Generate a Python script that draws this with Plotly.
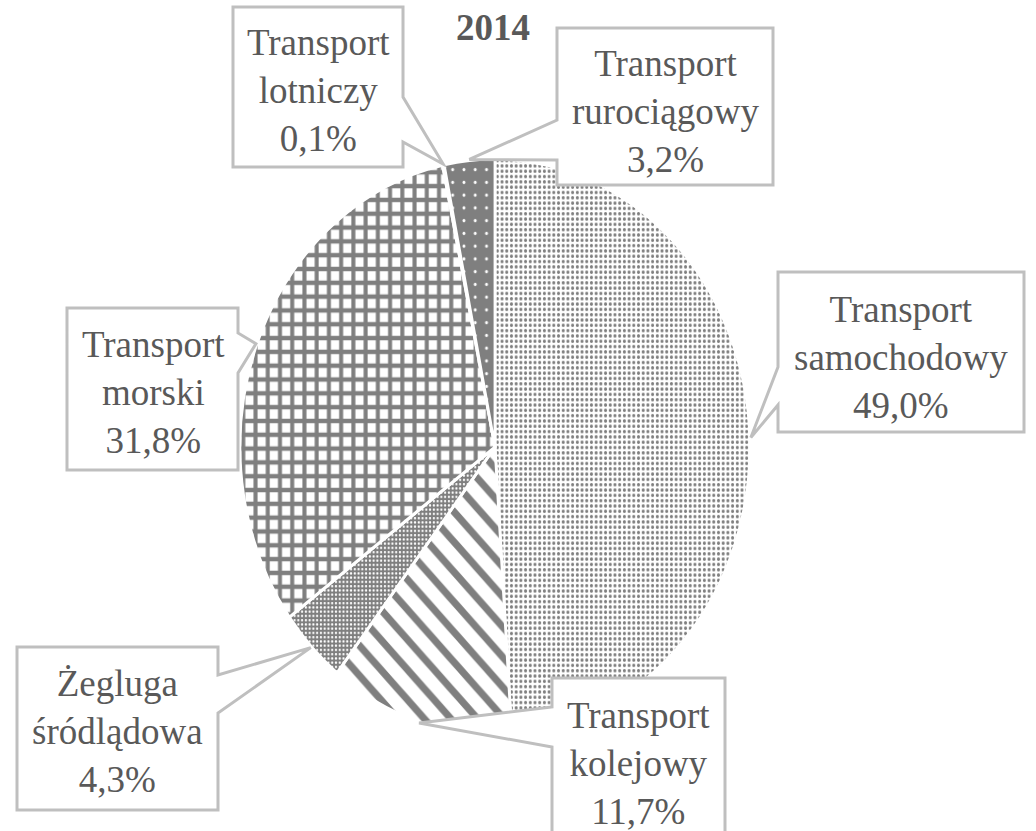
import math
import plotly.graph_objects as go

# ---------------- data ----------------
categories = ["Transport samochodowy", "Transport kolejowy", "Żegluga śródlądowa",
              "Transport morski", "Transport lotniczy", "Transport rurociągowy"]
label_lines = [["Transport", "samochodowy"], ["Transport", "kolejowy"], ["Żegluga", "śródlądowa"],
               ["Transport", "morski"], ["Transport", "lotniczy"], ["Transport", "rurociągowy"]]
values = [49.0, 11.7, 4.3, 31.8, 0.1, 3.2]
chart_title = "2014"

# ---------------- layout / style ----------------
W, H = 1036, 831
CX, CY = 495, 447          # pie centre (px)
RX, RY = 255, 288          # drawn pie half-width / half-height (px)
R = math.sqrt(RX * RY)     # radius handed to plotly
SX, SY = RX / R, RY / R    # slight vertical stretch of the pie layer
GRAY = "#7f7f7f"
TEXT = "#595959"
BORDER = "#bfbfbf"
FONT = "Liberation Serif, Times New Roman, serif"

pat_shape = [".", "\\", ".", "+", "", "."]
pat_fg = [GRAY, GRAY, "white", GRAY, "white", "white"]
pat_bg = ["white", "white", GRAY, "white", "white", GRAY]
pat_size = [5, 20, 4, 13, 8, 12]
pat_solid = [0.33, 0.36, 0.25, 0.55, 0.2, 0.05]

# callout boxes (pixels): x0, y0, x1, y1, side, wedge start, wedge end, text centre
boxes = [
    (778, 272, 1024, 432, "left", 367, 405, (901, 357)),
    (552, 678, 725, 860, "left", 707, 747, (638, 763)),
    (17, 647, 218, 810, "right", 675, 713, (117, 731)),
    (67, 308, 238, 470, "right", 333, 373, (153, 392)),
    (233, 7, 403, 167, "right", 97, 142, (318, 91)),
    (557, 28, 773, 185, "left", 120, 160, (665, 111)),
]


def px(x):
    return x / W


def py(y):
    return 1 - y / H


fig = go.Figure(go.Pie(
    labels=categories, values=values, sort=False, direction="clockwise", rotation=0,
    textinfo="none", hoverinfo="label+percent", showlegend=False,
    marker=dict(colors=pat_bg, line=dict(color="white", width=3),
                pattern=dict(shape=pat_shape, fgcolor=pat_fg, bgcolor=pat_bg,
                             size=pat_size, solidity=pat_solid, fillmode="replace")),
    domain=dict(x=[px(CX - R), px(CX + R)], y=[py(CY + R), py(CY - R)]),
))

total = sum(values)
cum = 0.0
shapes = []
annotations = []
for i, v in enumerate(values):
    mid = (cum + v / 2) / total * 2 * math.pi
    cum += v
    tx = CX + (RX + 1) * math.sin(mid)
    ty = CY - (RY + 1) * math.cos(mid)
    x0, y0, x1, y1, side, a, b, (lx, ly) = boxes[i]
    if side == "right":
        pts = [(x0, y0), (x1, y0), (x1, a), (tx, ty), (x1, b), (x1, y1), (x0, y1)]
    else:
        pts = [(x0, y0), (x1, y0), (x1, y1), (x0, y1), (x0, b), (tx, ty), (x0, a)]
    path = "M " + " L ".join(f"{px(x):.5f},{py(y):.5f}" for x, y in pts) + " Z"
    shapes.append(dict(type="path", path=path, xref="paper", yref="paper",
                       line=dict(color=BORDER, width=3), fillcolor="white", layer="above"))
    pct = f"{v:.1f}".replace(".", ",") + "%"
    text = "<br>".join(label_lines[i] + [pct])
    annotations.append(dict(x=px(lx), y=py(ly), xref="paper", yref="paper", text=text,
                            showarrow=False, xanchor="center", yanchor="middle",
                            font=dict(family=FONT, size=37, color=TEXT)))

annotations.append(dict(x=px(493), y=py(28), xref="paper", yref="paper",
                        text=f"<b>{chart_title}</b>", showarrow=False,
                        xanchor="center", yanchor="middle",
                        font=dict(family=FONT, size=37, color=TEXT)))

fig.update_layout(width=W, height=H, margin=dict(l=0, r=0, t=0, b=0),
                  paper_bgcolor="white", plot_bgcolor="white",
                  shapes=shapes, annotations=annotations)

post = (
    "try {"
    "document.body.style.margin='0px';"
    "document.body.style.overflow='hidden';"
    "var gd=document.getElementById('{plot_id}');"
    "var pl=gd.querySelector('.pielayer');"
    f"if(pl){{pl.setAttribute('transform','translate({CX},{CY}) scale({SX:.4f},{SY:.4f}) translate({-CX},{-CY})');}}"
    "} catch(e) {}"
)
fig.write_html("out.html", post_script=post, config={"displayModeBar": False})
